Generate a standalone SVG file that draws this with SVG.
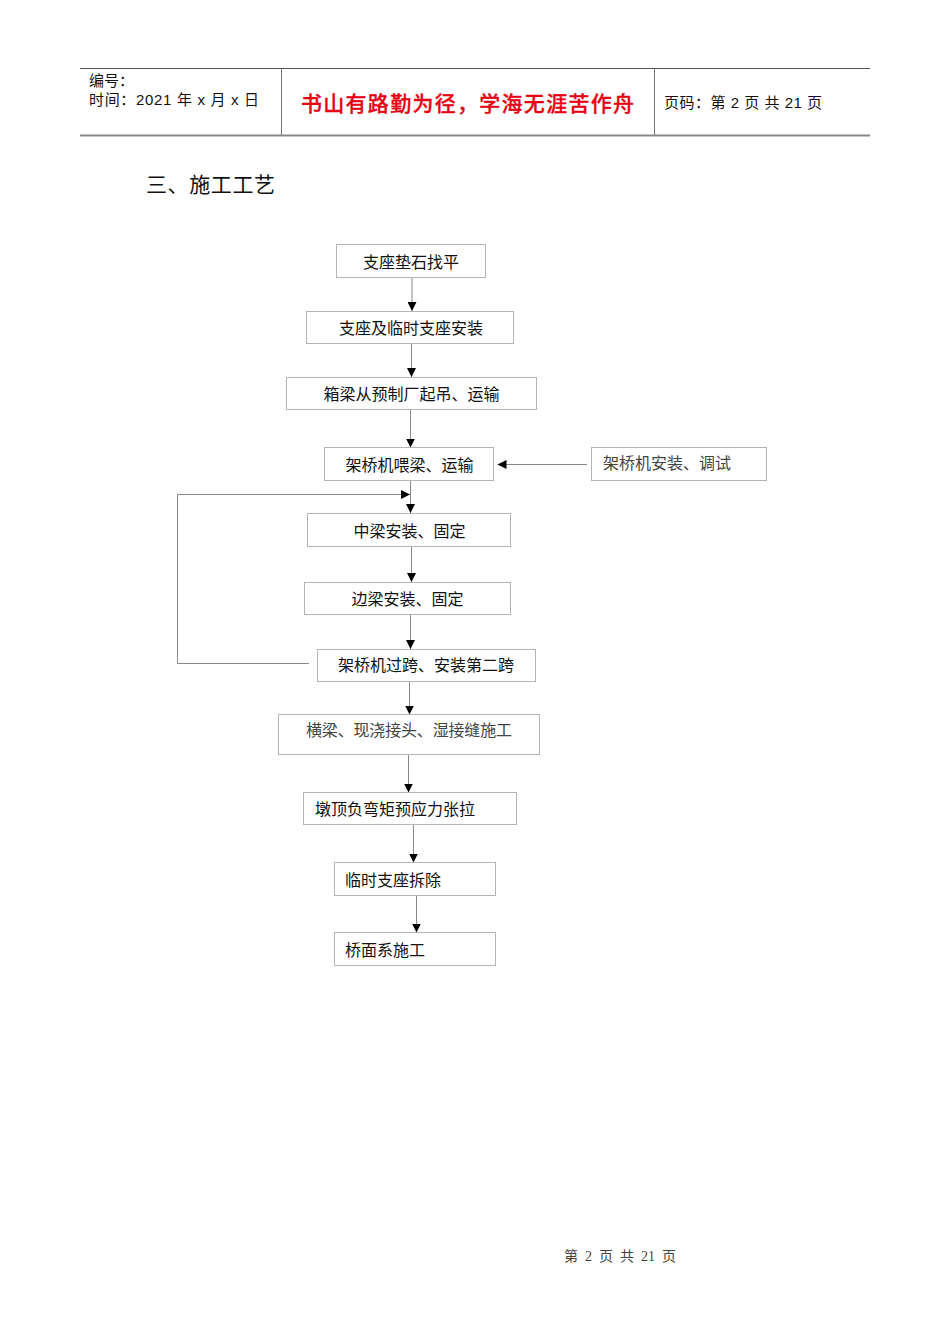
<svg xmlns="http://www.w3.org/2000/svg" width="950" height="1344" viewBox="0 0 950 1344">
<style>
  .bg{fill:#ffffff}
  .hline{stroke:#555;stroke-width:1;fill:none}
  .hline2{stroke:#888;stroke-width:2;fill:none}
  .vline{stroke:#777;stroke-width:1;fill:none}
  .ht{font-family:"Liberation Sans","Noto Sans CJK SC",sans-serif;font-size:15px;fill:#111}
  .red{font-family:"Noto Sans CJK SC",sans-serif;font-size:21px;fill:#e60012;font-weight:500;stroke:#e60012;stroke-width:0.3}
  .title{font-family:"Noto Sans CJK SC",sans-serif;font-size:21px;fill:#111}
  .box{fill:#fff;stroke:#b4b4b4;stroke-width:1}
  .bt{font-family:"Liberation Sans","Noto Sans CJK SC",sans-serif;font-size:16px;fill:#111}
  .st{font-family:"Liberation Serif","Noto Sans CJK SC",serif;font-size:16px;fill:#444}
  .mid{text-anchor:middle}
  .conn{stroke:#8a8a8a;stroke-width:1;fill:none;marker-end:url(#arr)}
  .foot{font-family:"Liberation Serif","Noto Sans CJK SC",serif;font-size:14px;fill:#444}
</style>
<defs>
  <marker id="arr" viewBox="0 0 10 10" refX="10" refY="5" markerWidth="9" markerHeight="9" markerUnits="userSpaceOnUse" orient="auto">
    <path d="M0,0 L10,5 L0,10 z" fill="#000"/>
  </marker>
</defs>
<rect class="bg" x="0" y="0" width="950" height="1344"/>

<g id="header">
  <line class="hline" x1="80" y1="68.5" x2="870" y2="68.5"/>
  <line class="hline2" x1="80" y1="135.5" x2="870" y2="135.5"/>
  <line class="vline" x1="281.5" y1="68.5" x2="281.5" y2="135"/>
  <line class="vline" x1="654.5" y1="68.5" x2="654.5" y2="135"/>
  <text class="ht" x="89" y="86">编号：</text>
  <text class="ht" x="89" y="105" textLength="170" lengthAdjust="spacing">时间：2021 年 x 月 x 日</text>
  <text class="red" x="301" y="111" textLength="333" lengthAdjust="spacing">书山有路勤为径，学海无涯苦作舟</text>
  <text class="ht" x="664" y="108" textLength="158" lengthAdjust="spacing">页码：第 2 页  共 21 页</text>
</g>

<text class="title" x="146" y="192" textLength="129" lengthAdjust="spacing">三、施工工艺</text>

<g id="connectors">
  <line class="conn" x1="412" y1="277.5" x2="412" y2="311"/>
  <line class="conn" x1="411.5" y1="343.5" x2="411.5" y2="377"/>
  <line class="conn" x1="410.5" y1="409.5" x2="410.5" y2="447.5"/>
  <line class="conn" x1="410.5" y1="480.5" x2="410.5" y2="513"/>
  <line class="conn" x1="411.5" y1="546.5" x2="411.5" y2="582"/>
  <line class="conn" x1="410.5" y1="614.5" x2="410.5" y2="649"/>
  <line class="conn" x1="409.5" y1="681.5" x2="409.5" y2="714.5"/>
  <line class="conn" x1="408.5" y1="754.5" x2="408.5" y2="792.5"/>
  <line class="conn" x1="413.5" y1="824.5" x2="413.5" y2="862.5"/>
  <line class="conn" x1="416.5" y1="895.5" x2="416.5" y2="932.5"/>
  <line class="conn" x1="587" y1="464.5" x2="497.5" y2="464.5"/>
  <polyline class="conn" points="309,663.5 177.5,663.5 177.5,494.5 410,494.5"/>
</g>

<g id="n1"><rect class="box" x="336.5" y="244.5" width="149" height="33"/><text class="bt mid" x="411" y="268">支座垫石找平</text></g>
<g id="n2"><rect class="box" x="306.5" y="311.5" width="207" height="32"/><text class="bt mid" x="411" y="334">支座及临时支座安装</text></g>
<g id="n3"><rect class="box" x="286.5" y="377.5" width="250" height="32"/><text class="bt mid" x="411.5" y="400">箱梁从预制厂起吊、运输</text></g>
<g id="n4"><rect class="box" x="324.5" y="447.5" width="169" height="33"/><text class="bt mid" x="409.5" y="471">架桥机喂梁、运输</text></g>
<g id="n5"><rect class="box" x="591.5" y="447.5" width="175" height="33"/><text class="st" x="603" y="469">架桥机安装、调试</text></g>
<g id="n6"><rect class="box" x="307.5" y="513.5" width="203" height="33"/><text class="bt mid" x="409.5" y="537">中梁安装、固定</text></g>
<g id="n7"><rect class="box" x="304.5" y="582.5" width="206" height="32"/><text class="bt mid" x="407.5" y="605">边梁安装、固定</text></g>
<g id="n8"><rect class="box" x="317.5" y="649.5" width="218" height="32"/><text class="bt mid" x="426" y="671">架桥机过跨、安装第二跨</text></g>
<g id="n9"><rect class="box" x="278.5" y="714.5" width="261" height="40"/><text class="st" x="306" y="736" textLength="206" lengthAdjust="spacing">横梁、现浇接头、湿接缝施工</text></g>
<g id="n10"><rect class="box" x="303.5" y="792.5" width="213" height="32"/><text class="bt" x="315" y="815">墩顶负弯矩预应力张拉</text></g>
<g id="n11"><rect class="box" x="334.5" y="862.5" width="161" height="33"/><text class="bt" x="345" y="886">临时支座拆除</text></g>
<g id="n12"><rect class="box" x="334.5" y="932.5" width="161" height="33"/><text class="bt" x="345" y="956">桥面系施工</text></g>

<text class="foot" x="564" y="1261" xml:space="preserve">第  2  页  共  21  页</text>
</svg>
